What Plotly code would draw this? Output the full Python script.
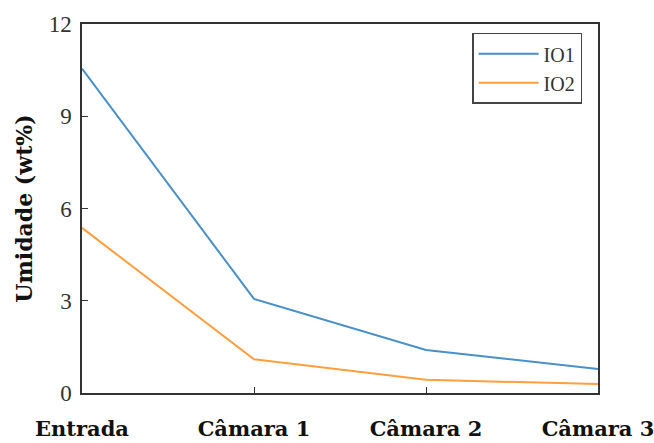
import plotly.graph_objects as go

categories = ["Entrada", "Câmara 1", "Câmara 2", "Câmara 3"]
io1 = [10.55, 3.06, 1.40, 0.78]
io2 = [5.37, 1.10, 0.43, 0.29]
y_ticks = [0, 3, 6, 9, 12]

fig = go.Figure()
fig.add_trace(go.Scatter(x=categories, y=io1, mode="lines", name="IO1",
                         line=dict(color="#4a90c8", width=2)))
fig.add_trace(go.Scatter(x=categories, y=io2, mode="lines", name="IO2",
                         line=dict(color="#ff9e3d", width=2)))

fig.update_layout(
    width=654, height=443,
    margin=dict(l=82, r=56, t=24, b=50, autoexpand=False),
    plot_bgcolor="white", paper_bgcolor="white",
    font=dict(family="Liberation Serif", color="#222"),
    legend=dict(x=0.756, y=0.976, xanchor="left", yanchor="top",
                bordercolor="#444", borderwidth=1.5, bgcolor="white",
                font=dict(family="Liberation Serif", size=20, color="#333"),
                itemwidth=60),
    showlegend=True,
)
fig.update_xaxes(
    type="category", range=[0, 3], automargin=False,
    showline=True, linecolor="#333", linewidth=1.5, mirror=True,
    ticks="inside", ticklen=6, tickcolor="#333",
    showgrid=False, zeroline=False,
    tickfont=dict(family="DejaVu Serif", size=21, color="#111", weight="bold"),
    ticklabelstandoff=16,
)
fig.update_yaxes(
    range=[0, 12], tickvals=y_ticks, automargin=False,
    showline=True, linecolor="#333", linewidth=1.5, mirror=True,
    ticks="inside", ticklen=6, tickcolor="#333",
    showgrid=False, zeroline=False,
    tickfont=dict(family="Liberation Serif", size=23, color="#333"),
    ticklabelstandoff=4,
    title=dict(text="Umidade (wt%)", font=dict(family="DejaVu Serif", size=22,
                                                color="#111", weight="bold"), standoff=10),
)

fig.write_html(
    "out.html",
    config={"displayModeBar": False},
    post_script=("document.documentElement.style.overflow='hidden';"
                 "document.body.style.overflow='hidden';"
                 "document.body.style.margin='0';"),
)
